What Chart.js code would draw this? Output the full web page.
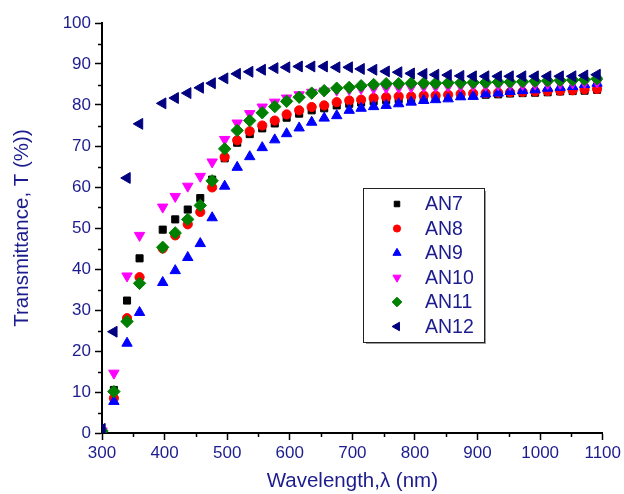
<!DOCTYPE html>
<html><head><meta charset="utf-8">
<script src="https://cdn.jsdelivr.net/npm/chart.js@4/dist/chart.umd.min.js"></script>
<style>html,body{margin:0;padding:0;background:#fff;}#wrap{width:624px;height:494px;position:relative;}</style>
</head><body><div id="wrap"><canvas id="c" width="624" height="494"></canvas></div>
<script>
const wavelength = [300,319,340,360,397,417,437,457,476,496,516,536,556,576,595,615,635,655,675,695,714,734,754,774,794,814,833,853,873,893,913,933,952,972,992,1012,1032,1052,1071,1091];
const an7  = [0.3,10.5,32.3,42.6,49.6,52.1,54.5,57.3,61.8,67.0,70.8,72.9,74.3,75.5,76.9,77.9,78.7,79.2,79.9,80.3,80.6,80.9,81.2,81.4,81.5,81.7,81.8,82.0,82.2,82.3,82.5,82.6,82.8,82.9,83.0,83.1,83.3,83.4,83.5,83.7];
const an8  = [0.3,8.5,28.0,38.0,45.0,48.2,50.9,53.9,59.9,67.3,71.4,73.6,75.0,76.2,77.7,78.7,79.5,79.9,80.7,81.1,81.3,81.7,81.9,82.1,82.1,82.3,82.3,82.5,82.7,82.8,82.9,83.0,83.1,83.2,83.3,83.4,83.5,83.6,83.8,83.9];
const an9  = [0.3,7.7,21.9,29.4,36.7,39.6,42.8,46.2,52.5,60.2,64.8,67.4,69.6,71.5,73.0,74.4,75.8,76.8,77.4,78.7,79.2,79.6,79.9,80.3,80.7,81.1,81.3,81.5,82.0,82.1,82.7,82.9,83.3,83.5,83.7,84.1,84.3,84.5,85.0,85.3];
const an10 = [0.5,14.6,38.3,48.2,55.1,57.7,60.2,62.6,66.1,71.6,75.6,77.9,79.5,80.7,81.7,82.5,83.1,83.4,83.6,83.8,84.0,84.1,84.2,84.3,84.4,84.5,84.5,84.6,84.7,84.8,84.8,84.9,85.0,85.0,85.1,85.2,85.3,85.4,85.5,85.6];
const an11 = [0.5,10.1,27.2,36.5,45.3,48.8,52.1,55.5,61.5,69.3,73.8,76.2,78.1,79.6,80.9,81.9,82.9,83.5,84.1,84.3,84.7,85.0,85.2,85.2,85.3,85.3,85.3,85.4,85.4,85.5,85.5,85.6,85.6,85.7,85.8,85.9,86.0,86.1,86.2,86.4];
const an12 = [1.0,24.7,62.2,75.4,80.4,81.7,82.9,84.2,85.3,86.5,87.6,88.1,88.6,89.0,89.2,89.4,89.4,89.4,89.2,89.2,88.8,88.6,88.2,88.0,87.7,87.6,87.4,87.3,87.1,87.0,87.0,87.0,87.0,87.0,87.0,87.0,87.0,87.0,87.2,87.4];
const seriesNames = ['AN7','AN8','AN9','AN10','AN11','AN12'];
const seriesValues = [an7, an8, an9, an10, an11, an12];
const xAxisTitle = 'Wavelength,\u03bb (nm)';
const yAxisTitle = 'Transmittance, T (%))';

const styles = [
  {color:'#000000', pointStyle:'rect', radius:5, rotation:0},
  {color:'#ff0000', pointStyle:'circle', radius:4.6, rotation:0},
  {color:'#0000ff', pointStyle:'triangle', radius:6, rotation:0},
  {color:'#ff00ff', pointStyle:'triangle', radius:6, rotation:180},
  {color:'#008000', pointStyle:'rectRot', radius:6.2, rotation:0},
  {color:'#000080', pointStyle:'triangle', radius:6.3, rotation:-90}
];
const FONT = "'Liberation Sans', Arial, sans-serif";
const TXT = '#1c1c8f';

const datasets = seriesNames.map((name, i) => ({
  label: name,
  data: wavelength.map((w, j) => ({x: w, y: seriesValues[i][j]})),
  showLine: false,
  pointStyle: styles[i].pointStyle,
  pointRotation: styles[i].rotation,
  pointRadius: styles[i].radius,
  pointHoverRadius: styles[i].radius,
  pointBorderWidth: 1,
  backgroundColor: styles[i].color,
  borderColor: styles[i].color,
  order: seriesNames.length - i,
  clip: 0
}));

const minorTicks = {
  id: 'minorTicks',
  afterDraw(chart) {
    const ctx = chart.ctx, xs = chart.scales.x, ys = chart.scales.y, a = chart.chartArea;
    ctx.save();
    ctx.strokeStyle = '#000'; ctx.lineWidth = 1.5;
    for (let v = 350; v < 1100; v += 100) {
      const px = Math.round(xs.getPixelForValue(v)) + 0.5;
      ctx.beginPath(); ctx.moveTo(px, a.bottom); ctx.lineTo(px, a.bottom + 4); ctx.stroke();
    }
    for (let v = 5; v < 100; v += 10) {
      const py = Math.round(ys.getPixelForValue(v)) + 0.5;
      ctx.beginPath(); ctx.moveTo(a.left - 4, py); ctx.lineTo(a.left, py); ctx.stroke();
    }
    ctx.restore();
  }
};

function drawMarker(ctx, st, x, y, r) {
  ctx.save();
  ctx.fillStyle = st.color; ctx.strokeStyle = st.color; ctx.lineWidth = 1;
  ctx.beginPath();
  if (st.pointStyle === 'rect') {
    const s = r * Math.SQRT1_2; ctx.rect(x - s, y - s, 2 * s, 2 * s);
  } else if (st.pointStyle === 'circle') {
    ctx.arc(x, y, r, 0, Math.PI * 2);
  } else if (st.pointStyle === 'rectRot') {
    ctx.moveTo(x, y - r); ctx.lineTo(x + r, y); ctx.lineTo(x, y + r); ctx.lineTo(x - r, y); ctx.closePath();
  } else {
    let rad = st.rotation * Math.PI / 180;
    for (let k = 0; k < 3; k++) {
      const px = x + Math.sin(rad) * r, py = y - Math.cos(rad) * r;
      if (k === 0) ctx.moveTo(px, py); else ctx.lineTo(px, py);
      rad += 2 * Math.PI / 3;
    }
    ctx.closePath();
  }
  ctx.fill(); ctx.stroke();
  ctx.restore();
}

const boxLegend = {
  id: 'boxLegend',
  afterDraw(chart) {
    const ctx = chart.ctx;
    const L = 363, T = 188, W = 121, H = 154;
    ctx.save();
    ctx.fillStyle = '#ffffff'; ctx.fillRect(L, T, W, H);
    ctx.strokeStyle = '#9a9a9a'; ctx.lineWidth = 2;
    ctx.beginPath(); ctx.moveTo(L + W + 1, T + 3); ctx.lineTo(L + W + 1, T + H + 1); ctx.lineTo(L + 3, T + H + 1); ctx.stroke();
    ctx.strokeStyle = '#222'; ctx.lineWidth = 1;
    ctx.strokeRect(L + 0.5, T + 0.5, W, H);
    ctx.font = '19.5px ' + FONT; ctx.fillStyle = TXT; ctx.textBaseline = 'middle'; ctx.textAlign = 'left';
    chart.data.datasets.forEach((ds, i) => {
      const y = T + 16 + i * 24.5;
      drawMarker(ctx, styles[i], 397, y, styles[i].radius * 0.78);
      ctx.fillText(ds.label, 425, y + 1);
    });
    ctx.restore();
  }
};

new Chart(document.getElementById('c'), {
  type: 'scatter',
  data: {datasets},
  options: {
    responsive: false,
    animation: false,
    devicePixelRatio: 1,
    layout: {padding: {top: 23, right: 21, left: 0, bottom: 0}},
    plugins: {legend: {display: false}, tooltip: {enabled: false}},
    scales: {
      x: {
        type: 'linear', min: 300, max: 1100,
        afterFit(s) { s.height = 61; },
        grid: {drawOnChartArea: false, drawTicks: true, tickLength: 7, tickWidth: 1.5, tickColor: '#000'},
        border: {display: true, color: '#000', width: 2},
        ticks: {stepSize: 100, color: TXT, font: {family: FONT, size: 17}, padding: 3, maxRotation: 0, autoSkip: false,
                callback: v => String(v)},
        title: {display: true, text: xAxisTitle, color: TXT, font: {family: FONT, size: 20.5}, padding: {top: 0, bottom: 0}}
      },
      y: {
        type: 'linear', min: 0, max: 100,
        afterFit(s) { s.width = 102; },
        grid: {drawOnChartArea: false, drawTicks: true, tickLength: 7, tickWidth: 1.5, tickColor: '#000'},
        border: {display: true, color: '#000', width: 2},
        ticks: {stepSize: 10, color: TXT, font: {family: FONT, size: 17}, padding: 4, autoSkip: false,
                callback: v => String(v)},
        title: {display: true, text: yAxisTitle, color: TXT, font: {family: FONT, size: 20.5}, padding: {top: 10, bottom: 0}}
      }
    }
  },
  plugins: [minorTicks, boxLegend]
});
</script></body></html>
